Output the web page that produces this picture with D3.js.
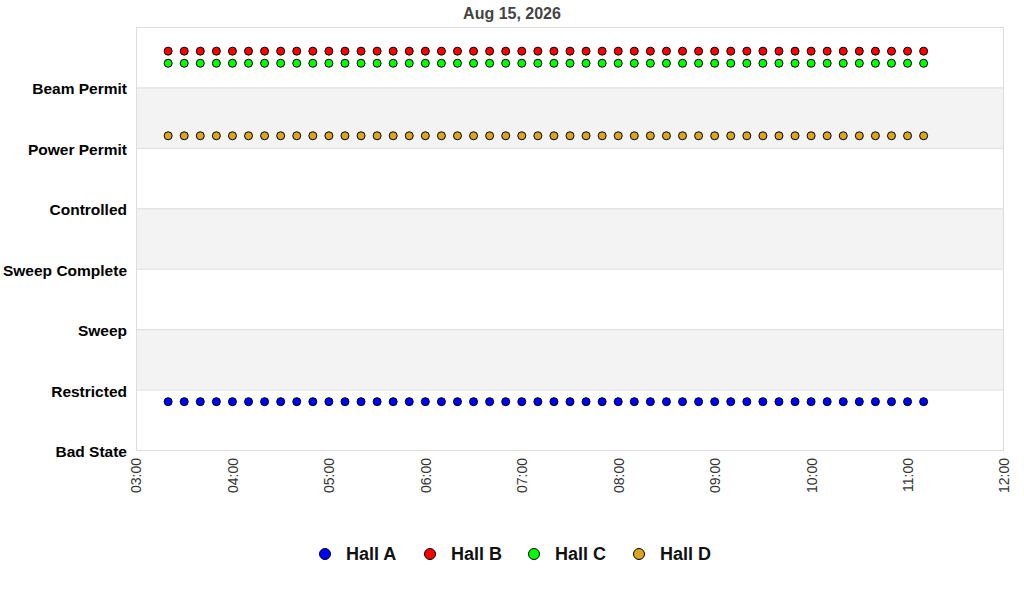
<!DOCTYPE html>
<html><head><meta charset="utf-8">
<script src="https://cdn.jsdelivr.net/npm/d3@7"></script>
<style>body{margin:0;background:#fff}svg{display:block;font-family:"Liberation Sans",Arial,sans-serif}</style>
</head><body><svg id="c" width="1024" height="600"></svg>
<script>
const title = "Aug 15, 2026";
const stateLabels = ["Bad State","Restricted","Sweep","Sweep Complete","Controlled","Power Permit","Beam Permit"];
const xTicks = ["03:00","04:00","05:00","06:00","07:00","08:00","09:00","10:00","11:00","12:00"];
const times = ["03:20","03:30","03:40","03:50","04:00","04:10","04:20","04:30","04:40","04:50",
"05:00","05:10","05:20","05:30","05:40","05:50","06:00","06:10","06:20","06:30","06:40","06:50",
"07:00","07:10","07:20","07:30","07:40","07:50","08:00","08:10","08:20","08:30","08:40","08:50",
"09:00","09:10","09:20","09:30","09:40","09:50","10:00","10:10","10:20","10:30","10:40","10:50",
"11:00","11:10"];
const seriesNames = ["Hall A","Hall B","Hall C","Hall D"];
const seriesColors = ["#0000ff","#ff0000","#00ff00","#daa520"];
const hallA = Array(48).fill(0.8);
const hallB = Array(48).fill(6.6);
const hallC = Array(48).fill(6.4);
const hallD = Array(48).fill(5.2);
const seriesValues = [hallA, hallB, hallC, hallD];

const svg = d3.select("#c");
const L=136,R=1004,T=27,B=450;
const parse = d3.timeParse("%H:%M");
const x = d3.scaleTime().domain([parse("03:00"), parse("12:00")]).range([L,R]);
const y = d3.scaleLinear().domain([0,7]).range([B,T]);

for (let i=0;i<7;i++){
  svg.append("rect").attr("x",L).attr("width",R-L)
    .attr("y",y(i+1)).attr("height",y(i)-y(i+1))
    .attr("fill", i%2===1 ? "#f3f3f3" : "#ffffff");
}
for (let i=1;i<7;i++){
  svg.append("line").attr("x1",L).attr("x2",R).attr("y1",y(i)+0.5).attr("y2",y(i)+0.5)
    .attr("stroke","#dddddd");
}
svg.append("rect").attr("x",L+0.5).attr("y",T+0.5).attr("width",R-L-1).attr("height",B-T)
  .attr("fill","none").attr("stroke","#dddddd");

const yAxis = d3.axisLeft(y).tickValues(d3.range(0,7)).tickFormat(i=>stateLabels[i]).tickSize(0).tickPadding(9);
const yg = svg.append("g").attr("transform",`translate(${L},0)`).call(yAxis);
yg.select(".domain").remove();
yg.selectAll("text").attr("font-size",15.5).attr("font-weight","bold").attr("fill","#000")
  .attr("font-family","'Liberation Sans',Arial,sans-serif").attr("dy","0.42em");

const xAxis = d3.axisBottom(x).tickValues(xTicks.map(parse)).tickFormat(d3.timeFormat("%H:%M")).tickSize(0);
const xg = svg.append("g").attr("transform",`translate(0,${B})`).call(xAxis);
xg.select(".domain").remove();
xg.selectAll("text").attr("font-size",14).attr("fill","#333")
  .attr("font-family","'Liberation Sans',Arial,sans-serif")
  .attr("transform","rotate(-90)").attr("text-anchor","end")
  .attr("x",-8).attr("y",0).attr("dy","0.35em");

svg.append("text").attr("x",512).attr("y",19).attr("text-anchor","middle")
  .attr("font-size",16).attr("font-weight","bold").attr("fill","#444").text(title);

seriesValues.forEach((vals,si)=>{
  svg.append("g").selectAll("circle").data(vals).join("circle")
    .attr("cx",(d,i)=>x(parse(times[i]))).attr("cy",d=>y(d)).attr("r",4)
    .attr("fill",seriesColors[si]).attr("stroke","#000").attr("stroke-width",1);
});

const legX = [325,430,534,639];
seriesNames.forEach((n,i)=>{
  svg.append("circle").attr("cx",legX[i]).attr("cy",554).attr("r",5.5)
    .attr("fill",seriesColors[i]).attr("stroke","#000").attr("stroke-width",1);
  svg.append("text").attr("x",legX[i]+21).attr("y",554).attr("dy","0.35em")
    .attr("font-size",18).attr("font-weight","bold").attr("fill","#111").text(n);
});
</script></body></html>
